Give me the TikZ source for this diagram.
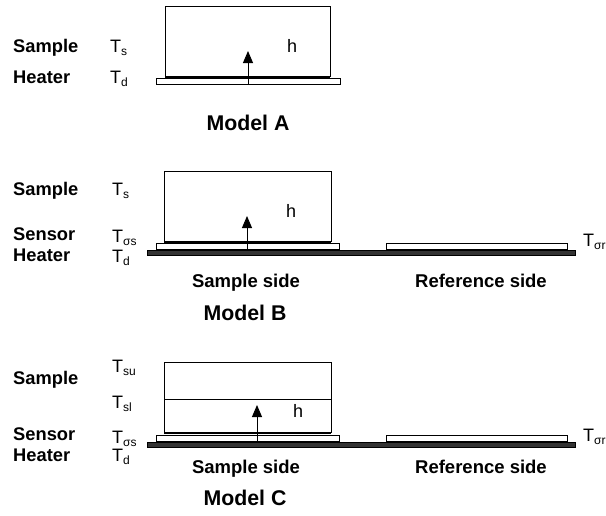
\documentclass[tikz,border=0pt]{standalone}
\usepackage{fontspec}
\setmainfont{Liberation Sans}
\usetikzlibrary{arrows.meta}
\newcommand\Tsub[1]{T\raisebox{-0.35ex}{\fontsize{12}{13}\selectfont #1}}
\tikzset{
  rowlbl/.style={anchor=base west,inner sep=0pt,font=\fontsize{18.3}{20}\selectfont\bfseries},
  templbl/.style={anchor=base west,inner sep=0pt,font=\fontsize{18}{20}\selectfont},
  sidelbl/.style={anchor=base,inner sep=0pt,font=\fontsize{18.5}{20}\selectfont\bfseries},
  modellbl/.style={anchor=base,inner sep=0pt,font=\fontsize{21.3}{24}\selectfont\bfseries},
  samplebox/.style={draw,line width=0.8pt},
  strip/.style={draw,fill=white,line width=0.8pt},
  heatbar/.style={draw=black,fill=black!80,line width=0.6pt},
  flux/.style={-{Triangle[length=12pt,width=10pt]},line width=0.9pt}
}
\begin{document}
\begin{tikzpicture}[x=1pt,y=-1pt]
  \useasboundingbox (0,0) rectangle (606,515);
  % Model A
  \draw [samplebox] (165,77) -- (165,6) -- (330,6) -- (330,77);
  \draw [strip] (156,78) rectangle (340,84);
  \draw [line width=2pt] (165,77) -- (330,77);
  \coordinate (fA0) at (248,84);
  \coordinate (fA1) at (248,51);
  \draw [flux] (fA0) -- (fA1);
  \node [templbl] (hA) at (287,52) {h};
  \node [rowlbl] (sampleA) at (13,52) {Sample};
  \node [rowlbl] (heaterA) at (13,83) {Heater};
  \node [templbl] (tsA) at (110,52) {\Tsub{s}};
  \node [templbl] (tdA) at (110,83) {\Tsub{d}};
  \node [modellbl] (modelA) at (248,130) {Model A};
  % Model B
  \draw [samplebox] (164,242) -- (164,171) -- (331,171) -- (331,242);
  \draw [line width=2pt] (164,242) -- (331,242);
  \draw [strip] (156,243) rectangle (339,249);
  \draw [strip] (386,243) rectangle (567,249);
  \draw [heatbar] (147,250) rectangle (575,255);
  \coordinate (fB0) at (247,249);
  \coordinate (fB1) at (247,216);
  \draw [flux] (fB0) -- (fB1);
  \node [templbl] (hB) at (286,217) {h};
  \node [rowlbl] (sampleB) at (13,195) {Sample};
  \node [rowlbl] (sensorB) at (13,240) {Sensor};
  \node [rowlbl] (heaterB) at (13,261) {Heater};
  \node [templbl] (tsB) at (112,195) {\Tsub{s}};
  \node [templbl] (tssB) at (112,242) {\Tsub{σs}};
  \node [templbl] (tdB) at (112,262) {\Tsub{d}};
  \node [templbl] (tsrB) at (583,246) {\Tsub{σr}};
  \node [sidelbl] (ssideB) at (246,287) {Sample side};
  \node [sidelbl] (rsideB) at (481,287) {Reference side};
  \node [modellbl] (modelB) at (245,320) {Model B};
  % Model C
  \draw [samplebox] (164,433) -- (164,362) -- (331,362) -- (331,433);
  \draw [samplebox] (164,399) -- (331,399);
  \draw [line width=2pt] (164,433) -- (331,433);
  \draw [strip] (156,435) rectangle (339,441);
  \draw [strip] (386,435) rectangle (567,441);
  \draw [heatbar] (147,442) rectangle (575,447);
  \coordinate (fC0) at (257,441);
  \coordinate (fC1) at (257,405);
  \draw [flux] (fC0) -- (fC1);
  \node [templbl] (hC) at (293,417) {h};
  \node [rowlbl] (sampleC) at (13,384) {Sample};
  \node [rowlbl] (sensorC) at (13,440) {Sensor};
  \node [rowlbl] (heaterC) at (13,461) {Heater};
  \node [templbl] (tsuC) at (112,372) {\Tsub{su}};
  \node [templbl] (tslC) at (112,408) {\Tsub{sl}};
  \node [templbl] (tssC) at (112,443) {\Tsub{σs}};
  \node [templbl] (tdC) at (112,461) {\Tsub{d}};
  \node [templbl] (tsrC) at (583,441) {\Tsub{σr}};
  \node [sidelbl] (ssideC) at (246,473) {Sample side};
  \node [sidelbl] (rsideC) at (481,473) {Reference side};
  \node [modellbl] (modelC) at (245,505) {Model C};
\end{tikzpicture}
\end{document}
